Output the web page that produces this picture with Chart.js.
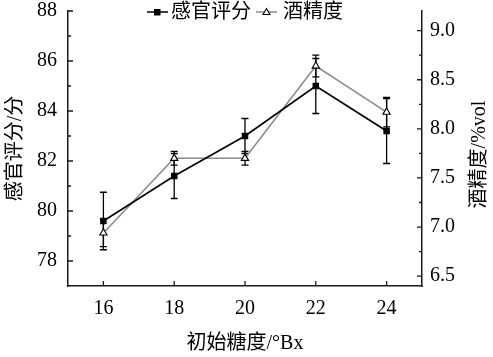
<!DOCTYPE html>
<html><head><meta charset="utf-8">
<script src="https://cdn.jsdelivr.net/npm/chart.js@4/dist/chart.umd.min.js"></script>
<style>html,body{margin:0;padding:0;background:#fff}#wrap{width:493px;height:357px}</style>
</head><body><div id="wrap"><canvas id="c" width="493" height="357"></canvas></div>
<script>
const sugarLevels = [16, 18, 20, 22, 24];
const sensoryScore = [79.6, 81.4, 83.0, 85.0, 83.2];
const sensoryError = [1.15, 0.9, 0.7, 1.1, 1.3];
const alcoholContent = [6.94, 7.70, 7.70, 8.64, 8.17];
const alcoholError = [0.14, 0.07, 0.07, 0.11, 0.15];
const seriesNames = ['感官评分', '酒精度'];
const xTicks = [16, 18, 20, 22, 24];
const leftTicks = [78, 80, 82, 84, 86, 88];
const leftMinorTicks = [79, 81, 83, 85, 87];
const rightTicks = [6.5, 7.0, 7.5, 8.0, 8.5, 9.0];
const rightMinorTicks = [6.75, 7.25, 7.75, 8.25, 8.75];
const xTitle = '初始糖度/°Bx';
const leftTitle = '感官评分/分';
const rightTitle = '酒精度/%vol';

const FONT = '"Liberation Serif", "Noto Sans CJK SC", serif';
const AXIS_COLOR = '#1a1a1a';

const tickPlugin = {
  id: 'inwardTicks',
  afterDatasetsDraw(chart) {
    const ctx = chart.ctx;
    const x = chart.scales.x, y = chart.scales.y, y1 = chart.scales.y1;
    const ca = chart.chartArea;
    ctx.save();
    ctx.strokeStyle = AXIS_COLOR;
    ctx.lineWidth = 1.3;
    ctx.beginPath();
    xTicks.forEach(v => { const px = x.getPixelForValue(v); ctx.moveTo(px, ca.bottom); ctx.lineTo(px, ca.bottom - 5); });
    leftTicks.forEach(v => { const py = y.getPixelForValue(v); ctx.moveTo(ca.left, py); ctx.lineTo(ca.left + 5, py); });
    leftMinorTicks.forEach(v => { const py = y.getPixelForValue(v); ctx.moveTo(ca.left, py); ctx.lineTo(ca.left + 3, py); });
    rightTicks.forEach(v => { const py = y1.getPixelForValue(v); ctx.moveTo(ca.right, py); ctx.lineTo(ca.right - 5, py); });
    rightMinorTicks.forEach(v => { const py = y1.getPixelForValue(v); ctx.moveTo(ca.right, py); ctx.lineTo(ca.right - 3, py); });
    ctx.stroke();

    ctx.fillStyle = '#000';
    ctx.font = '20px ' + FONT;
    ctx.textAlign = 'center';
    ctx.textBaseline = 'middle';
    ctx.translate(480, (ca.top + ca.bottom) / 2 + 6);
    ctx.rotate(-Math.PI / 2);
    ctx.fillText(rightTitle, 0, 0);
    ctx.restore();

    ctx.save();
    ctx.font = '20px ' + FONT;
    ctx.textBaseline = 'middle';
    ctx.textAlign = 'left';
    ctx.fillStyle = '#000';
    const ly = 12;
    ctx.strokeStyle = '#000'; ctx.lineWidth = 1.5;
    ctx.beginPath(); ctx.moveTo(147, ly); ctx.lineTo(168, ly); ctx.stroke();
    ctx.fillRect(154, ly - 3, 6.5, 6.5);
    ctx.fillText(seriesNames[0], 171, ly + 1);
    ctx.strokeStyle = '#8a8a8a';
    ctx.beginPath(); ctx.moveTo(256, ly); ctx.lineTo(277, ly); ctx.stroke();
    ctx.beginPath();
    ctx.moveTo(266.5, ly - 3.5); ctx.lineTo(270, ly + 2.5); ctx.lineTo(263, ly + 2.5); ctx.closePath();
    ctx.fillStyle = '#fff'; ctx.fill();
    ctx.strokeStyle = '#000'; ctx.lineWidth = 1.1; ctx.stroke();
    ctx.fillStyle = '#000';
    ctx.fillText(seriesNames[1], 283, ly + 1);
    ctx.restore();
  }
};

const errorPlugin = {
  id: 'errorBars',
  beforeDatasetsDraw(chart) {
    const ctx = chart.ctx;
    const x = chart.scales.x, y = chart.scales.y, y1 = chart.scales.y1;
    ctx.save();
    ctx.strokeStyle = '#000';
    ctx.lineWidth = 1.3;
    const draw = (vals, errs, sc) => {
      vals.forEach((v, i) => {
        const px = x.getPixelForValue(sugarLevels[i]);
        const top = sc.getPixelForValue(v + errs[i]);
        const bot = sc.getPixelForValue(v - errs[i]);
        ctx.beginPath();
        ctx.moveTo(px, top); ctx.lineTo(px, bot);
        ctx.moveTo(px - 3.5, top); ctx.lineTo(px + 3.5, top);
        ctx.moveTo(px - 3.5, bot); ctx.lineTo(px + 3.5, bot);
        ctx.stroke();
      });
    };
    draw(sensoryScore, sensoryError, y);
    draw(alcoholContent, alcoholError, y1);
    ctx.restore();
  }
};

new Chart(document.getElementById('c'), {
  type: 'line',
  data: {
    datasets: [
      {
        label: seriesNames[0],
        data: sugarLevels.map((s, i) => ({ x: s, y: sensoryScore[i] })),
        yAxisID: 'y',
        borderColor: '#000',
        borderWidth: 1.6,
        pointStyle: 'rect',
        pointRadius: 4.6,
        pointBackgroundColor: '#000',
        pointBorderColor: '#000',
        pointBorderWidth: 0,
        tension: 0
      },
      {
        label: seriesNames[1],
        data: sugarLevels.map((s, i) => ({ x: s, y: alcoholContent[i] })),
        yAxisID: 'y1',
        borderColor: '#8a8a8a',
        borderWidth: 1.6,
        pointStyle: 'triangle',
        pointRadius: 4.2,
        pointBackgroundColor: '#fff',
        pointBorderColor: '#000',
        pointBorderWidth: 1.1,
        tension: 0
      }
    ]
  },
  options: {
    responsive: false,
    animation: false,
    devicePixelRatio: 1,
    layout: { padding: { top: 11, left: 0, right: 0, bottom: 0 } },
    plugins: { legend: { display: false }, tooltip: { enabled: false } },
    scales: {
      x: {
        type: 'linear', min: 15, max: 25,
        afterBuildTicks: s => { s.ticks = xTicks.map(v => ({ value: v })); },
        afterFit: s => { s.height = 71; s.paddingLeft = 0; s.paddingRight = 0; },
        grid: { display: false, drawTicks: false },
        border: { display: true, color: AXIS_COLOR, width: 1.5 },
        ticks: { color: '#000', font: { family: FONT, size: 20 }, padding: 11, maxRotation: 0 },
        title: { display: true, text: xTitle, color: '#000', font: { family: FONT, size: 20 }, padding: { top: 0, bottom: 1 } }
      },
      y: {
        type: 'linear', position: 'left', min: 77, max: 88,
        afterBuildTicks: s => { s.ticks = leftTicks.map(v => ({ value: v })); },
        afterFit: s => { s.width = 68; s.paddingTop = 0; s.paddingBottom = 0; },
        grid: { display: false, drawTicks: false },
        border: { display: true, color: AXIS_COLOR, width: 1.5 },
        ticks: { color: '#000', font: { family: FONT, size: 20 }, padding: 11 },
        title: { display: true, text: leftTitle, color: '#000', font: { family: FONT, size: 20 }, padding: { top: 4, bottom: 0 } }
      },
      y1: {
        type: 'linear', position: 'right', min: 6.4, max: 9.2,
        afterBuildTicks: s => { s.ticks = rightTicks.map(v => ({ value: v })); },
        afterFit: s => { s.width = 71; s.paddingTop = 0; s.paddingBottom = 0; },
        grid: { display: false, drawTicks: false },
        border: { display: true, color: AXIS_COLOR, width: 1.5 },
        ticks: { color: '#000', font: { family: FONT, size: 20 }, padding: 8, callback: v => Number(v).toFixed(1) }
      }
    }
  },
  plugins: [errorPlugin, tickPlugin]
});
</script></body></html>
